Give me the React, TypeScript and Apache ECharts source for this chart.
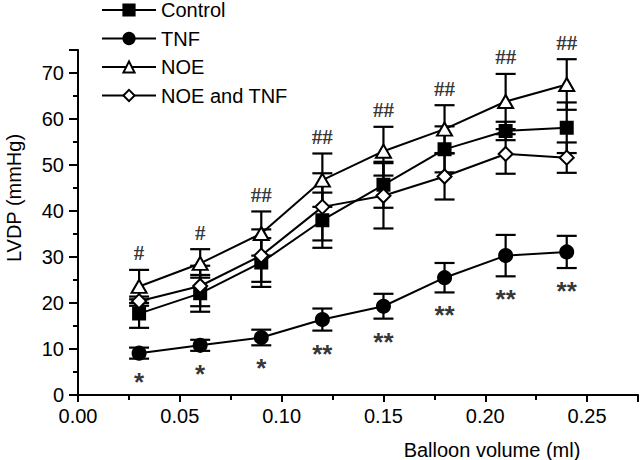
import React, { useEffect, useRef } from "react";
import * as echarts from "echarts";

const volumes = [0.03, 0.06, 0.09, 0.12, 0.15, 0.18, 0.21, 0.24];
const controlMean = [17.7, 22.1, 28.8, 38.0, 45.7, 53.4, 57.4, 58.1];
const controlErr = [3.1, 4.0, 5.3, 6.0, 5.0, 5.0, 2.0, 5.5];
const tnfMean = [9.1, 10.8, 12.5, 16.4, 19.3, 25.5, 30.3, 31.1];
const tnfErr = [1.2, 1.2, 1.7, 2.4, 2.7, 3.2, 4.5, 3.5];
const noeMean = [23.6, 28.6, 35.1, 46.7, 53.0, 57.8, 63.8, 67.5];
const noeErr = [3.6, 3.1, 4.8, 5.8, 5.3, 5.2, 6.0, 5.5];
const noeTnfMean = [20.4, 23.7, 30.3, 40.9, 43.3, 47.5, 52.4, 51.6];
const noeTnfErr = [1.0, 4.4, 5.7, 7.3, 7.1, 5.0, 4.3, 3.3];
const hashMarks = ["#", "#", "##", "##", "##", "##", "##", "##"];
const starMarks = ["*", "*", "*", "**", "**", "**", "**", "**"];
const seriesNames = ["Control", "TNF", "NOE", "NOE and TNF"];

const FONT = "Liberation Sans, Arial, sans-serif";

function errorSeries(means: number[], errs: number[]) {
  return {
    type: "custom",
    silent: true,
    z: 1,
    data: volumes.map((x, i) => [x, means[i] - errs[i], means[i] + errs[i]]),
    encode: { x: 0, y: [1, 2] },
    renderItem: (params: any, api: any) => {
      const x = api.value(0);
      const lo = api.coord([x, api.value(1)]);
      const hi = api.coord([x, api.value(2)]);
      const hw = 10;
      const st = { stroke: "#000", lineWidth: 2.2 };
      return {
        type: "group",
        children: [
          { type: "line", shape: { x1: lo[0], y1: lo[1], x2: hi[0], y2: hi[1] }, style: st },
          { type: "line", shape: { x1: lo[0] - hw, y1: lo[1], x2: lo[0] + hw, y2: lo[1] }, style: st },
          { type: "line", shape: { x1: hi[0] - hw, y1: hi[1], x2: hi[0] + hw, y2: hi[1] }, style: st },
        ],
      };
    },
  };
}

function lineSeries(name: string, means: number[], symbol: string, size: any, fill: string) {
  return {
    name,
    type: "line",
    z: 3,
    data: volumes.map((x, i) => [x, means[i]]),
    symbol,
    symbolSize: size,
    showAllSymbol: true,
    lineStyle: { color: "#000", width: 2 },
    itemStyle: { color: fill, borderColor: "#000", borderWidth: 2, opacity: 1 },
  };
}

export default function App() {
  const ref = useRef<HTMLDivElement>(null);
  useEffect(() => {
    if (!ref.current) return;
    const chart = echarts.init(ref.current, null, { renderer: "svg" });
    const option: any = {
      animation: false,
      backgroundColor: "#fff",
      grid: { left: 78, top: 50, right: 2, bottom: 65, containLabel: false },
      legend: {
        orient: "vertical",
        left: 101,
        top: 0,
        padding: 0,
        itemWidth: 54,
        itemHeight: 14,
        itemGap: 8.5,
        data: seriesNames,
        textStyle: { fontFamily: FONT, fontSize: 20, color: "#000", lineHeight: 20 },
        inactiveColor: "#000",
      },
      xAxis: {
        type: "value",
        min: 0,
        max: 0.275,
        interval: 0.05,
        axisLine: { lineStyle: { color: "#000", width: 2 } },
        axisTick: { inside: false, length: 7, lineStyle: { color: "#000", width: 2 } },
        minorTick: { show: true, splitNumber: 2, length: 5, lineStyle: { color: "#000", width: 2 } },
        splitLine: { show: false },
        axisLabel: {
          showMaxLabel: false,
          formatter: (v: number) => v.toFixed(2),
          fontFamily: FONT,
          fontSize: 20,
          color: "#000",
          margin: 11,
        },
      },
      yAxis: {
        type: "value",
        min: 0,
        max: 75,
        interval: 10,
        axisLine: { show: true, lineStyle: { color: "#000", width: 2 } },
        axisTick: { show: true, inside: false, length: 9, lineStyle: { color: "#000", width: 2 } },
        minorTick: { show: true, splitNumber: 2, length: 5, lineStyle: { color: "#000", width: 2 } },
        splitLine: { show: false },
        axisLabel: { showMaxLabel: false, fontFamily: FONT, fontSize: 20, color: "#000", margin: 14 },
      },
      graphic: [
        {
          type: "text",
          x: 14,
          y: 198,
          rotation: Math.PI / 2,
          style: {
            text: "LVDP (mmHg)",
            fontFamily: FONT,
            fontSize: 20,
            fill: "#000",
            align: "center",
            verticalAlign: "middle",
          },
        },
        {
          type: "text",
          x: 492,
          y: 450,
          style: {
            text: "Balloon volume (ml)",
            fontFamily: FONT,
            fontSize: 20,
            fill: "#000",
            align: "center",
            verticalAlign: "middle",
          },
        },
      ],
      series: [
        errorSeries(controlMean, controlErr),
        errorSeries(tnfMean, tnfErr),
        errorSeries(noeMean, noeErr),
        errorSeries(noeTnfMean, noeTnfErr),
        lineSeries("Control", controlMean, "rect", 12, "#000"),
        lineSeries("TNF", tnfMean, "circle", 13, "#000"),
        lineSeries("NOE", noeMean, "triangle", [15, 13], "#fff"),
        lineSeries("NOE and TNF", noeTnfMean, "diamond", [14, 14], "#fff"),
        {
          type: "scatter",
          silent: true,
          symbolSize: 0,
          z: 4,
          data: volumes.map((x, i) => ({ value: [x, noeMean[i] + noeErr[i]], label: { formatter: hashMarks[i] } })),
          label: {
            show: true,
            position: "top",
            distance: 6,
            fontFamily: "Liberation Serif, serif",
            fontWeight: "bold",
            fontSize: 21,
            color: "#000",
          },
        },
        {
          type: "scatter",
          silent: true,
          symbolSize: 0,
          z: 4,
          data: volumes.map((x, i) => ({ value: [x, tnfMean[i] - tnfErr[i]], label: { formatter: starMarks[i] } })),
          label: {
            show: true,
            position: "bottom",
            distance: 10,
            fontFamily: FONT,
            fontWeight: "bold",
            fontSize: 26,
            color: "#000",
          },
        },
      ],
    };
    chart.setOption(option);
    return () => chart.dispose();
  }, []);
  return (
    <div
      ref={ref}
      style={{ position: "fixed", left: 0, top: 0, width: 640, height: 460, background: "#fff" }}
    />
  );
}
